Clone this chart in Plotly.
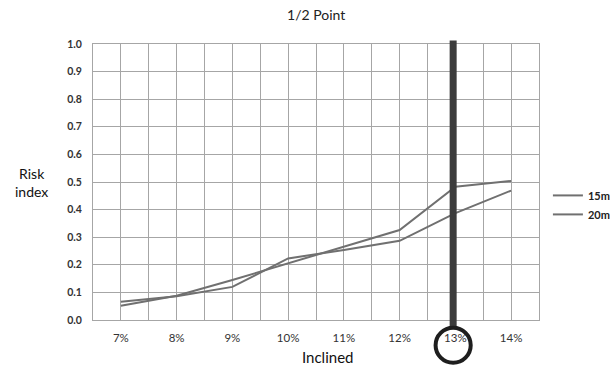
import plotly.graph_objects as go

# Inclination categories and risk index per distance
inclines = ["7%", "8%", "9%", "10%", "11%", "12%", "13%", "14%"]
risk_15m = [0.052, 0.088, 0.145, 0.205, 0.266, 0.326, 0.483, 0.504]
risk_20m = [0.066, 0.086, 0.120, 0.223, 0.254, 0.287, 0.387, 0.469]
highlight = "13%"

FONT = "Lato"
GRID = "#a6a6a6"
LINE = "#707070"

xs = list(range(len(inclines)))
hx = inclines.index(highlight) - 0.04

fig = go.Figure()
fig.add_trace(go.Scatter(x=xs, y=risk_15m, mode="lines", name="15m",
                         line=dict(color=LINE, width=2)))
fig.add_trace(go.Scatter(x=xs, y=risk_20m, mode="lines", name="20m",
                         line=dict(color=LINE, width=2)))

# Highlight bar through the selected category, ending at the ring
fig.add_shape(type="line", xref="x", yref="paper", x0=hx, x1=hx,
              y0=-0.025, y1=1.013, line=dict(color="#3c3c3c", width=7), layer="above")
# Ring around the highlighted tick label
fig.add_shape(type="circle", xref="x", yref="paper",
              x0=hx - 0.315, x1=hx + 0.315,
              y0=-0.155, y1=-0.028, line=dict(color="#1e1e1e", width=4), layer="above")

fig.update_layout(
    width=614, height=367,
    margin=dict(l=93, r=75, t=44, b=47, autoexpand=False),
    plot_bgcolor="white", paper_bgcolor="white",
    font=dict(family=FONT, color="#222"),
    title=dict(text="1/2 Point", x=0.515, xanchor="center", y=0.96, yanchor="middle",
               font=dict(family=FONT, size=14, color="#222")),
    showlegend=True,
    legend=dict(x=1.02, y=0.417, xanchor="left", yanchor="middle",
                font=dict(family=FONT, size=11, color="#222", weight="bold"),
                bgcolor="rgba(0,0,0,0)", tracegroupgap=0, itemwidth=30),
    xaxis=dict(
        range=[-0.5, len(inclines) - 0.5],
        tickmode="array", tickvals=xs, ticktext=inclines,
        showgrid=True, gridcolor=GRID, gridwidth=1,
        minor=dict(showgrid=True, gridcolor=GRID, gridwidth=1,
                   tickmode="array", tickvals=[i - 0.5 for i in range(len(inclines) + 1)]),
        showline=True, linecolor=GRID, mirror=True, zeroline=False,
        ticks="", ticklabelstandoff=7,
        tickfont=dict(family=FONT, size=11.5, color="#333"),
    ),
    yaxis=dict(
        range=[0, 1.0], dtick=0.1, tickformat=".1f",
        showgrid=True, gridcolor=GRID, gridwidth=1,
        showline=True, linecolor=GRID, mirror=True, zeroline=False,
        ticks="", ticklabelstandoff=8,
        tickfont=dict(family=FONT, size=10.5, color="#333", weight="bold"),
    ),
)

fig.add_annotation(text="Inclined", xref="paper", yref="paper",
                   x=0.525, y=-0.135, xanchor="center", yanchor="middle",
                   showarrow=False, font=dict(family=FONT, size=15, color="#111"))
fig.add_annotation(text="Risk<br>index", xref="paper", yref="paper",
                   x=-0.137, y=0.5, xanchor="center", yanchor="middle",
                   showarrow=False, font=dict(family=FONT, size=14, color="#111"))

fig.write_html("out.html")
